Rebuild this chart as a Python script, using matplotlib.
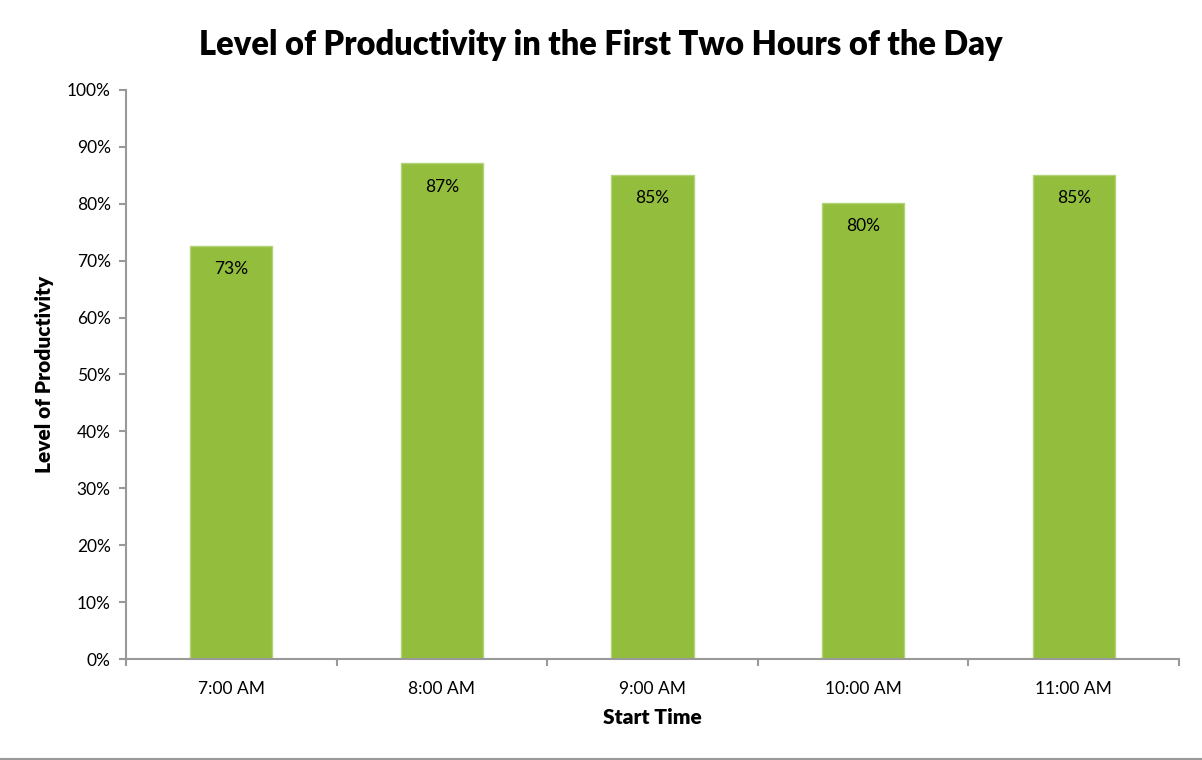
import matplotlib
matplotlib.use("Agg")
import matplotlib.pyplot as plt
from matplotlib.lines import Line2D
from matplotlib.ticker import FixedLocator, FuncFormatter

categories = ["7:00 AM", "8:00 AM", "9:00 AM", "10:00 AM", "11:00 AM"]
values = [0.726, 0.871, 0.851, 0.802, 0.851]
labels = ["73%", "87%", "85%", "80%", "85%"]
yticks = [0.0, 0.1, 0.2, 0.3, 0.4, 0.5, 0.6, 0.7, 0.8, 0.9, 1.0]

plt.rcParams['font.family'] = ['Lato', 'DejaVu Sans']

fig = plt.figure(figsize=(12.02, 7.6), dpi=100)
ax = fig.add_axes([126/1202, 1 - 659/760, (1179-126)/1202, (659-90)/760])

x = list(range(len(categories)))
bars = ax.bar(x, values, width=0.39, color="#93BD3C", edgecolor="#B3D37A", linewidth=1.0, zorder=2)
for xi, v, lab in zip(x, values, labels):
    ax.annotate(lab, (xi, v), xytext=(0, -11), textcoords="offset points",
                ha="center", va="top", fontsize=12.5, color="black")

ax.set_xlim(-0.5, len(categories) - 0.5)
ax.set_ylim(0, 1.0)
ax.yaxis.set_major_locator(FixedLocator(yticks))
ax.yaxis.set_major_formatter(FuncFormatter(lambda v, p: f"{v*100:.0f}%"))
ax.set_xticks(x)
ax.set_xticklabels(categories, fontsize=12.5)
ax.set_xticks([i - 0.5 for i in range(len(categories) + 1)], minor=True)
ax.tick_params(axis="x", which="major", length=0, pad=16)
ax.tick_params(axis="x", which="minor", length=5, color="#999999", width=1.5, direction="out")
ax.tick_params(axis="y", length=5, color="#999999", width=1.5, labelsize=12.5, pad=6)

for s in ["top", "right"]:
    ax.spines[s].set_visible(False)
for s in ["left", "bottom"]:
    ax.spines[s].set_color("#999999")
    ax.spines[s].set_linewidth(1.5)

ax.set_xlabel("Start Time", fontsize=15, fontweight="heavy", labelpad=8)
ax.set_ylabel("Level of Productivity", fontsize=15, fontweight="heavy", labelpad=9)
fig.text(0.5, 1 - 45/760, "Level of Productivity in the First Two Hours of the Day",
         ha="center", va="center", fontsize=23.5, fontweight="heavy")

fig.add_artist(Line2D([0, 1], [1 - 758.5/760, 1 - 758.5/760], color="#999999", linewidth=1.5))

fig.savefig("out.png", dpi=100)
